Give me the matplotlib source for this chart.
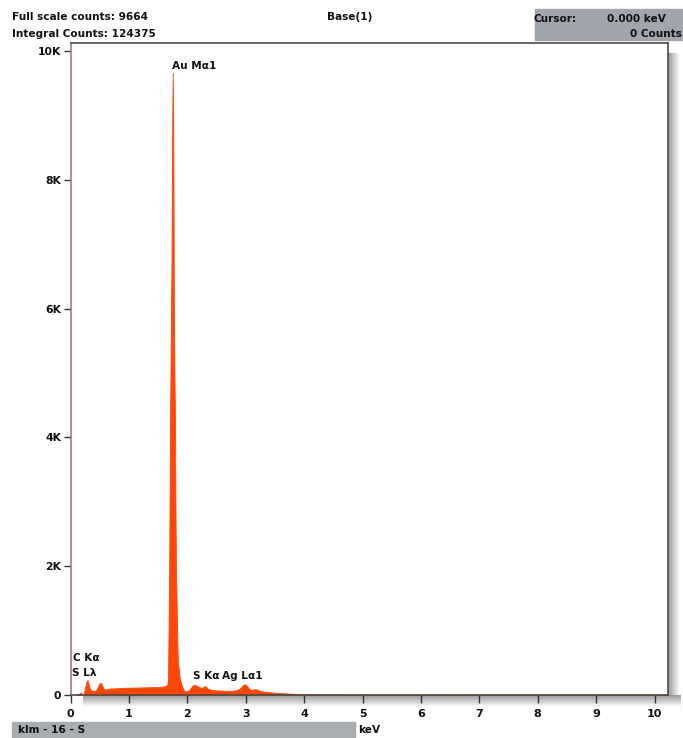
import numpy as np
import matplotlib
matplotlib.use("Agg")
import matplotlib.pyplot as plt

plt.rcParams['font.family'] = ['DejaVu Sans']

# EDS spectrum: energy (keV) and counts per channel
energy = [0.10, 0.14, 0.15, 0.17, 0.19, 0.21, 0.23, 0.25, 0.27, 0.29, 0.31, 0.33,
          0.35, 0.37, 0.39, 0.41, 0.43, 0.45, 0.47, 0.49, 0.51, 0.53, 0.55, 0.57,
          0.59, 0.61, 0.64, 0.67, 0.70, 0.73, 0.76, 0.79, 0.82, 0.85, 0.88, 0.91,
          0.94, 0.97, 1.00, 1.03, 1.06, 1.09, 1.12, 1.15, 1.18, 1.21, 1.24, 1.27,
          1.30, 1.33, 1.36, 1.39, 1.42, 1.45, 1.48, 1.51, 1.54, 1.57, 1.60, 1.62,
          1.64, 1.66, 1.67, 1.68, 1.69, 1.70, 1.71, 1.72, 1.73, 1.74, 1.75, 1.76,
          1.77, 1.78, 1.79, 1.80, 1.81, 1.82, 1.83, 1.84, 1.86, 1.88, 1.90, 1.92,
          1.94, 1.96, 1.98, 2.00, 2.03, 2.06, 2.09, 2.12, 2.15, 2.18, 2.21, 2.24,
          2.27, 2.30, 2.32, 2.35, 2.38, 2.41, 2.44, 2.47, 2.50, 2.55, 2.60, 2.65,
          2.70, 2.75, 2.80, 2.85, 2.90, 2.94, 2.97, 3.00, 3.03, 3.06, 3.09, 3.12,
          3.15, 3.18, 3.21, 3.25, 3.30, 3.35, 3.40, 3.45, 3.50, 3.55, 3.60, 3.70,
          3.80, 3.90, 4.00, 4.10, 4.20, 4.30, 4.40, 4.50, 4.60, 5.00, 6.00, 7.00,
          8.00, 9.00, 10.00, 10.23]
counts = [0, 0, 25, 38, 20, 10, 30, 110, 200, 230, 170, 100,
          75, 65, 62, 65, 72, 90, 130, 170, 190, 175, 130, 95,
          85, 88, 95, 98, 103, 100, 106, 104, 108, 110, 106, 112,
          110, 114, 112, 116, 113, 115, 117, 114, 118, 116, 120, 117,
          121, 119, 122, 120, 124, 122, 126, 125, 128, 130, 133, 138,
          150, 160, 300, 1100, 2000, 3500, 4800, 5800, 6800, 8600, 9664, 8800,
          6200, 5000, 4200, 2600, 1800, 1300, 800, 520, 330, 230, 160, 110,
          75, 62, 58, 60, 75, 110, 145, 155, 150, 135, 120, 110,
          118, 140, 130, 100, 88, 82, 78, 75, 72, 70, 68, 66,
          65, 66, 68, 75, 100, 140, 165, 160, 130, 95, 80, 82,
          92, 88, 75, 62, 55, 50, 45, 40, 36, 32, 28, 24,
          20, 17, 14, 12, 10, 8, 7, 6, 5, 4, 3, 2,
          2, 1, 1, 1]

# peak identifications and their anchor positions (keV, counts)
peak_labels = ["Au M\u03b11", "C K\u03b1", "S L\u03bb", "S K\u03b1", "Ag L\u03b11"]
peak_x = [1.73, 0.05, 0.03, 2.09, 2.59]
peak_y = [9690, 500, 270, 210, 210]

x_ticks = [0, 1, 2, 3, 4, 5, 6, 7, 8, 9, 10]
y_ticks = [0, 2000, 4000, 6000, 8000, 10000]
y_tick_labels = ["0", "2K", "4K", "6K", "8K", "10K"]

W, H = 683, 738
FS = 7.6
fig = plt.figure(figsize=(W / 100, H / 100), dpi=100)

# background layer in pixel coordinates (panels and frame shadow)
bg = fig.add_axes([0, 0, 1, 1], zorder=0)
bg.axis("off")

ax_l, ax_r, ax_t, ax_b = 70.5, 668, 43, 695
shade = np.linspace(0.6, 1.0, 24)
rgb = np.stack([shade, shade, shade], axis=-1)
bg.imshow(rgb[None, :, :], extent=[ax_r, ax_r + 12, ax_b + 12, ax_t + 10],
          aspect="auto", interpolation="bilinear", zorder=1)
bg.imshow(rgb[:, None, :], extent=[ax_l + 12, ax_r + 12, ax_b + 12, ax_b],
          aspect="auto", interpolation="bilinear", zorder=1)
bg.set_xlim(0, W)
bg.set_ylim(H, 0)

bg.add_patch(plt.Rectangle((535, 9), 148, 31, color="#a0a5ae", zorder=2))
bg.add_patch(plt.Rectangle((12, 722), 343, 16, color="#a9acb1", zorder=2))

hdr = dict(fontsize=FS, fontweight="bold", color="#111111", va="center", zorder=3)
bg.text(12, 17, "Full scale counts: 9664", ha="left", **hdr)
bg.text(12, 34, "Integral Counts: 124375", ha="left", **hdr)
bg.text(350, 17, "Base(1)", ha="center", **hdr)
bg.text(534, 19, "Cursor:", ha="left", **hdr)
bg.text(666, 19, "0.000 keV", ha="right", **hdr)
bg.text(682, 34, "0 Counts", ha="right", **hdr)
bg.text(18, 730, "klm - 16 - S", ha="left", **hdr)
bg.text(358, 730, "keV", ha="left", **hdr)

# spectrum axes
ax = fig.add_axes([ax_l / W, 1 - ax_b / H, (ax_r - ax_l) / W, (ax_b - ax_t) / H],
                  zorder=2)
ax.set_facecolor("white")
ax.fill_between(energy, counts, 0, color="#ff4709", linewidth=0.6,
                edgecolor="#ff4709")
ax.set_xlim(0, (ax_r - ax_l) / 58.4)
ax.set_ylim(0, (ax_b - ax_t) / 0.0644)

ax.set_xticks(x_ticks)
ax.set_xticklabels([str(v) for v in x_ticks])
ax.set_yticks(y_ticks)
ax.set_yticklabels(y_tick_labels)
ax.tick_params(axis="x", direction="out", length=6, width=1, color="#333333",
               pad=4, labelsize=FS + 0.4)
ax.tick_params(axis="y", direction="out", length=5, width=1, color="#333333",
               pad=1.5, labelsize=FS + 0.2)
for lab in ax.get_xticklabels() + ax.get_yticklabels():
    lab.set_fontweight("bold")
    lab.set_color("#111111")

ax.spines["left"].set_color("#a07a90")
ax.spines["left"].set_linewidth(1.2)
for side in ("top", "right", "bottom"):
    ax.spines[side].set_color("#4a4a4a")
    ax.spines[side].set_linewidth(1.2)

for txt, px, py in zip(peak_labels, peak_x, peak_y):
    ax.text(px, py, txt, fontsize=FS, fontweight="bold", color="#111111",
            ha="left", va="bottom")

fig.savefig("out.png", dpi=100)
